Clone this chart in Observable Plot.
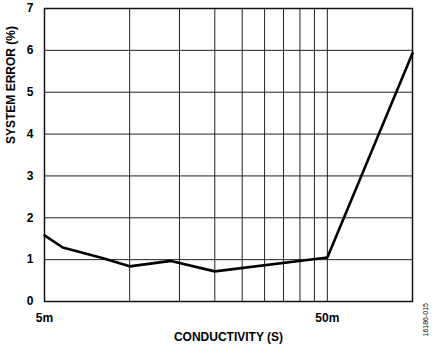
<!DOCTYPE html>
<html>
<head>
<meta charset="utf-8">
<script src="https://cdn.jsdelivr.net/npm/d3@7"></script>
<script src="https://cdn.jsdelivr.net/npm/@observablehq/plot@0.6"></script>
<style>
  html, body { margin: 0; padding: 0; background: #fff; }
</style>
</head>
<body>
<div id="chart"></div>
<script>
// Data
const conductivity = [0.005, 0.0058, 0.008, 0.010, 0.014, 0.020, 0.050, 0.100];
const systemError  = [1.58, 1.29, 1.04, 0.84, 0.97, 0.72, 1.05, 5.93];
const xGrid = [0.010, 0.015, 0.020, 0.025, 0.030, 0.035, 0.040, 0.045, 0.050];
const yGrid = [1, 2, 3, 4, 5, 6];
const yTicks = [0, 1, 2, 3, 4, 5, 6, 7];
const xTickValues = [0.005, 0.05];
const xTickLabels = ["5m", "50m"];
const xTitle = ["CONDUCTIVITY (S)"];
const yTitle = ["SYSTEM ERROR (%)"];
const figureId = ["16186-015"];

const data = conductivity.map((c, i) => ({c, e: systemError[i]}));
const xTicks = xTickValues.map((v, i) => ({v, label: xTickLabels[i]}));
const font = "'Liberation Sans', Arial, Helvetica, sans-serif";

const chart = Plot.plot({
  width: 435,
  height: 347,
  marginLeft: 44,
  marginTop: 8,
  marginRight: 23,
  marginBottom: 46,
  style: {fontFamily: font, fontSize: "12px", fontWeight: "bold", color: "#000", background: "#fff", overflow: "visible"},
  x: {type: "log", domain: [0.005, 0.1], axis: null},
  y: {domain: [0, 7], axis: null},
  marks: [
    Plot.ruleX(xGrid, {stroke: "#222", strokeWidth: 1}),
    Plot.ruleY(yGrid, {stroke: "#222", strokeWidth: 1}),
    Plot.frame({stroke: "#111", strokeWidth: 1.5}),
    Plot.text(yTicks, {y: (d) => d, frameAnchor: "left", dx: -11, textAnchor: "end", text: (d) => String(d), fontSize: 12, fontWeight: "bold", fill: "#000"}),
    Plot.text(xTicks, {x: "v", text: "label", frameAnchor: "bottom", dy: 17, lineAnchor: "middle", fontSize: 12, fontWeight: "bold", fill: "#000"}),
    Plot.text(xTitle, {frameAnchor: "bottom", dy: 36, lineAnchor: "middle", fontSize: 12, fontWeight: "bold", fill: "#000"}),
    Plot.text(yTitle, {frameAnchor: "left", dx: -33, dy: -11, rotate: -90, lineAnchor: "middle", fontSize: 12, fontWeight: "bold", fill: "#000"}),
    Plot.line(data, {x: "c", y: "e", stroke: "#000", strokeWidth: 2.6, strokeLinejoin: "miter"}),
    Plot.text(figureId, {frameAnchor: "bottom-right", dx: 15, dy: 35, rotate: -90, textAnchor: "start", fontSize: 7, fontWeight: "normal", fill: "#000"})
  ]
});
document.getElementById("chart").appendChild(chart);
</script>
</body>
</html>
